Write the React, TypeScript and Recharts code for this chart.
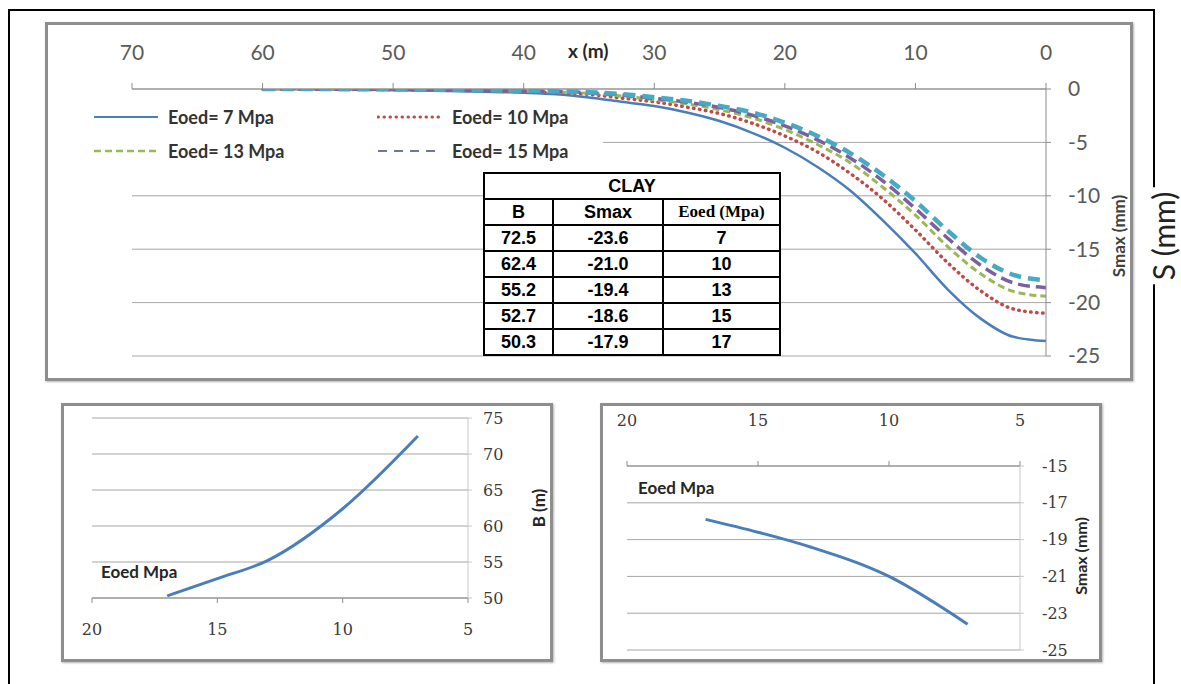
import React from 'react';
import { LineChart, Line, XAxis, YAxis, CartesianGrid } from 'recharts';

// Settlement trough S(x) for each oedometer modulus
const xPositions = [0, 2.5, 5, 7.5, 10, 12.5, 15, 17.5, 20, 22.5, 25, 27.5, 30, 32.5, 35, 37.5, 40, 45, 50, 55, 60];
const settleE7 = [-23.6, -23.2, -21.5, -18.8, -15.4, -12.3, -9.5, -7.3, -5.5, -4.1, -3.0, -2.2, -1.6, -1.2, -0.8, -0.5, -0.35, -0.2, -0.1, -0.05, 0];
const settleE10 = [-21.0, -20.6, -18.9, -16.3, -13.2, -10.3, -7.9, -5.9, -4.4, -3.2, -2.3, -1.7, -1.2, -0.85, -0.5, -0.35, -0.25, -0.12, -0.07, -0.02, 0];
const settleE13 = [-19.4, -18.95, -17.3, -14.8, -11.8, -9.2, -6.9, -5.2, -3.8, -2.7, -1.95, -1.4, -1.0, -0.65, -0.4, -0.28, -0.2, -0.1, -0.05, -0.01, 0];
const settleE15 = [-18.6, -18.15, -16.5, -14.0, -11.2, -8.6, -6.45, -4.76, -3.45, -2.45, -1.73, -1.23, -0.88, -0.56, -0.35, -0.25, -0.18, -0.09, -0.04, -0.01, 0];
const settleE17 = [-17.9, -17.4, -15.8, -13.3, -10.5, -8.05, -6.0, -4.4, -3.15, -2.2, -1.58, -1.1, -0.77, -0.48, -0.3, -0.22, -0.16, -0.08, -0.03, -0.01, 0];

const mainXTicks = [0, 10, 20, 30, 40, 50, 60, 70];
const mainYTicks = [-25, -20, -15, -10, -5, 0];

// CLAY table
const eoedValues = [7, 10, 13, 15, 17];
const bValues = [72.5, 62.4, 55.2, 52.7, 50.3];
const smaxValues = [-23.6, -21.0, -19.4, -18.6, -17.9];

const eoedTicks = [20, 15, 10, 5];
const bTicks = [50, 55, 60, 65, 70, 75];
const smaxTicks = [-25, -23, -21, -19, -17, -15];

const SANS = 'Lato, "Open Sans", sans-serif';
const SERIF = '"DejaVu Serif", "Liberation Serif", serif';

const series = [
  { key: 'e7', label: 'Eoed= 7 Mpa', color: '#4A7EBB', width: 2.5, dash: undefined, cap: 'butt' },
  { key: 'e10', label: 'Eoed= 10 Mpa', color: '#BE4B48', width: 3.5, dash: '0.5 5.5', cap: 'round' },
  { key: 'e13', label: 'Eoed= 13 Mpa', color: '#98B954', width: 3, dash: '7 4', cap: 'butt' },
  { key: 'e15', label: 'Eoed= 15 Mpa', color: '#7D5FA0', width: 3.5, dash: '12 6', cap: 'butt' },
  { key: 'e17', label: 'Eoed= 17 Mpa', color: '#46AAC5', width: 4.5, dash: '12 7', cap: 'butt' },
];

// rows ordered so that screen x increases (axes are reversed)
const mainRows = xPositions
  .map((x, i) => ({
    x,
    e7: settleE7[i],
    e10: settleE10[i],
    e13: settleE13[i],
    e15: settleE15[i],
    e17: settleE17[i],
  }))
  .reverse();

const smallRows = eoedValues
  .map((e, i) => ({ eoed: e, b: bValues[i], smax: smaxValues[i] }))
  .reverse();

const panelStyle = (left: number, top: number, width: number, height: number): React.CSSProperties => ({
  position: 'absolute',
  left,
  top,
  width,
  height,
  boxSizing: 'border-box',
  border: '3px solid #8e8e8e',
  boxShadow: '1px 1px 2px #b5b5b5',
  background: '#fff',
});

function VText({ x, y, text, size, weight = 400, color = '#262626', bg }: {
  x: number; y: number; text: string; size: number; weight?: number; color?: string; bg?: string;
}) {
  return (
    <div
      style={{
        position: 'absolute',
        left: x,
        top: y,
        transform: 'translate(-50%, -50%) rotate(-90deg)',
        whiteSpace: 'nowrap',
        fontFamily: SANS,
        fontSize: size,
        fontWeight: weight,
        color,
        background: bg,
        lineHeight: 1,
        padding: bg ? '0 4px' : 0,
      }}
    >
      {text}
    </div>
  );
}

function LegendSample({ color, width, dash, cap }: { color: string; width: number; dash?: string; cap: string }) {
  return (
    <svg width={66} height={10} style={{ display: 'block' }}>
      <line x1={1} y1={5} x2={65} y2={5} stroke={color} strokeWidth={width - 0.5} strokeDasharray={dash} strokeLinecap={cap as any} />
    </svg>
  );
}

function MainLegend() {
  const items = [
    { s: series[0], left: 93, top: 117 },
    { s: series[1], left: 377, top: 117 },
    { s: series[2], left: 93, top: 151 },
    { s: { ...series[3], color: '#6F74A8', width: 2.5, dash: '9 7' }, left: 377, top: 151 },
  ];
  return (
    <>
      <div style={{ position: 'absolute', left: 88, top: 103, width: 515, height: 64, background: '#fff' }} />
      {items.map(({ s, left, top }) => (
        <div
          key={s.key}
          style={{ position: 'absolute', left, top: top - 11, height: 22, display: 'flex', alignItems: 'center', gap: 9 }}
        >
          <LegendSample color={s.color} width={s.width} dash={s.dash} cap={s.cap} />
          <span style={{ fontFamily: SANS, fontSize: 18, fontWeight: 700, color: '#333', whiteSpace: 'nowrap' }}>{s.label}</span>
        </div>
      ))}
    </>
  );
}

function ClayTable() {
  const cell: React.CSSProperties = {
    border: '2px solid #000',
    height: 24,
    padding: 0,
    textAlign: 'center',
    fontFamily: '"Liberation Sans", Arial, sans-serif',
    fontWeight: 700,
    fontSize: 18,
    lineHeight: '24px',
    color: '#000',
  };
  return (
    <table
      style={{
        position: 'absolute',
        left: 483,
        top: 172,
        width: 296,
        borderCollapse: 'collapse',
        background: '#fff',
        tableLayout: 'fixed',
      }}
    >
      <colgroup>
        <col style={{ width: 69 }} />
        <col style={{ width: 110 }} />
        <col style={{ width: 117 }} />
      </colgroup>
      <tbody>
        <tr>
          <td colSpan={3} style={cell}>CLAY</td>
        </tr>
        <tr>
          <td style={cell}>B</td>
          <td style={cell}>Smax</td>
          <td style={{ ...cell, fontFamily: '"Liberation Serif", "Times New Roman", serif', fontSize: 17 }}>Eoed (Mpa)</td>
        </tr>
        {eoedValues.map((e, i) => (
          <tr key={e}>
            <td style={cell}>{bValues[i].toFixed(1)}</td>
            <td style={cell}>{smaxValues[i].toFixed(1)}</td>
            <td style={cell}>{e}</td>
          </tr>
        ))}
      </tbody>
    </table>
  );
}

function MainChart() {
  const tick = { fill: '#5a5a5a', fontSize: 21, fontFamily: SANS };
  return (
    <div style={{ position: 'absolute', left: 45, top: 22 }}>
      <LineChart width={1088} height={359} data={mainRows} margin={{ top: 27, right: 27, bottom: 25, left: 87 }}>
        <CartesianGrid vertical={false} stroke="#a6a6a6" />
        <XAxis
          dataKey="x"
          type="number"
          orientation="top"
          reversed
          domain={[0, 70]}
          ticks={mainXTicks}
          height={40}
          tickSize={6}
          tickMargin={23}
          tick={tick}
          stroke="#8c8c8c"
          allowDataOverflow
        />
        <YAxis
          type="number"
          orientation="right"
          domain={[-25, 0]}
          ticks={mainYTicks}
          width={60}
          tickSize={5}
          tickMargin={17}
          tick={tick}
          stroke="#8c8c8c"
          allowDataOverflow
        />
        {series.map((s) => (
          <Line
            key={s.key}
            type="monotone"
            dataKey={s.key}
            stroke={s.color}
            strokeWidth={s.width}
            strokeDasharray={s.dash}
            strokeLinecap={s.cap as any}
            dot={false}
            isAnimationActive={false}
          />
        ))}
      </LineChart>
    </div>
  );
}

function BChart() {
  const tick = { fill: '#3a3a3a', fontSize: 16, fontFamily: SERIF };
  return (
    <div style={{ position: 'absolute', left: 61, top: 403 }}>
      <LineChart width={492} height={259} data={smallRows} margin={{ top: 15, right: 25, bottom: 34, left: 31 }}>
        <CartesianGrid vertical={false} stroke="#a6a6a6" />
        <XAxis
          dataKey="eoed"
          type="number"
          reversed
          domain={[5, 20]}
          ticks={eoedTicks}
          height={30}
          tickSize={5}
          tickMargin={21}
          tick={tick}
          stroke="#8c8c8c"
        />
        <YAxis
          type="number"
          orientation="right"
          domain={[50, 75]}
          ticks={bTicks}
          width={60}
          tickSize={4}
          tickMargin={11}
          tick={tick}
          stroke="#c8c8c8"
        />
        <Line type="monotone" dataKey="b" stroke="#4A7EBB" strokeWidth={3} dot={false} isAnimationActive={false} />
      </LineChart>
    </div>
  );
}

function SmaxChart() {
  const tick = { fill: '#3a3a3a', fontSize: 16, fontFamily: SERIF };
  return (
    <div style={{ position: 'absolute', left: 600, top: 403 }}>
      <LineChart width={502} height={259} data={smallRows} margin={{ top: 33, right: 22, bottom: 12, left: 27 }}>
        <CartesianGrid vertical={false} stroke="#a6a6a6" />
        <XAxis
          dataKey="eoed"
          type="number"
          orientation="top"
          reversed
          domain={[5, 20]}
          ticks={eoedTicks}
          height={30}
          tickSize={5}
          tickMargin={35}
          tick={tick}
          stroke="#8c8c8c"
        />
        <YAxis
          type="number"
          orientation="right"
          domain={[-25, -15]}
          ticks={smaxTicks}
          width={60}
          tickSize={4}
          tickMargin={18}
          tick={tick}
          stroke="#c8c8c8"
        />
        <Line type="monotone" dataKey="smax" stroke="#4A7EBB" strokeWidth={3} dot={false} isAnimationActive={false} />
      </LineChart>
    </div>
  );
}

export default function App() {
  return (
    <div style={{ position: 'relative', width: 1181, height: 684, overflow: 'hidden', background: '#fff' }}>
      <style>{'body{margin:0;}'}</style>

      {/* outer frame */}
      <div style={{ position: 'absolute', left: 8, top: 9, width: 1147, height: 700, border: '2px solid #000', boxSizing: 'border-box' }} />

      {/* top panel: settlement troughs */}
      <div style={panelStyle(45, 22, 1088, 359)} />
      <MainChart />
      <div style={{ position: 'absolute', left: 568, top: 39, fontFamily: SANS, fontSize: 19, fontWeight: 700, color: '#262626', whiteSpace: 'nowrap' }}>
        x (m)
      </div>
      <VText x={1118} y={236} text="Smax (mm)" size={17} weight={700} color="#404040" />
      <MainLegend />
      <ClayTable />

      {/* bottom-left panel: B vs Eoed */}
      <div style={panelStyle(61, 403, 492, 259)} />
      <BChart />
      <div style={{ position: 'absolute', left: 101, top: 561, fontFamily: SANS, fontSize: 17, fontWeight: 700, color: '#262626' }}>
        Eoed Mpa
      </div>
      <VText x={538} y={508} text="B (m)" size={17} weight={700} color="#262626" />

      {/* bottom-right panel: Smax vs Eoed */}
      <div style={panelStyle(600, 403, 502, 259)} />
      <SmaxChart />
      <div style={{ position: 'absolute', left: 638, top: 477, fontFamily: SANS, fontSize: 17, fontWeight: 700, color: '#262626' }}>
        Eoed Mpa
      </div>
      <VText x={1081} y={556} text="Smax (mm)" size={16} weight={700} color="#262626" />

      {/* global axis title on the frame */}
      <VText x={1163} y={236} text="S (mm)" size={30} weight={400} color="#222" bg="#fff" />
    </div>
  );
}
